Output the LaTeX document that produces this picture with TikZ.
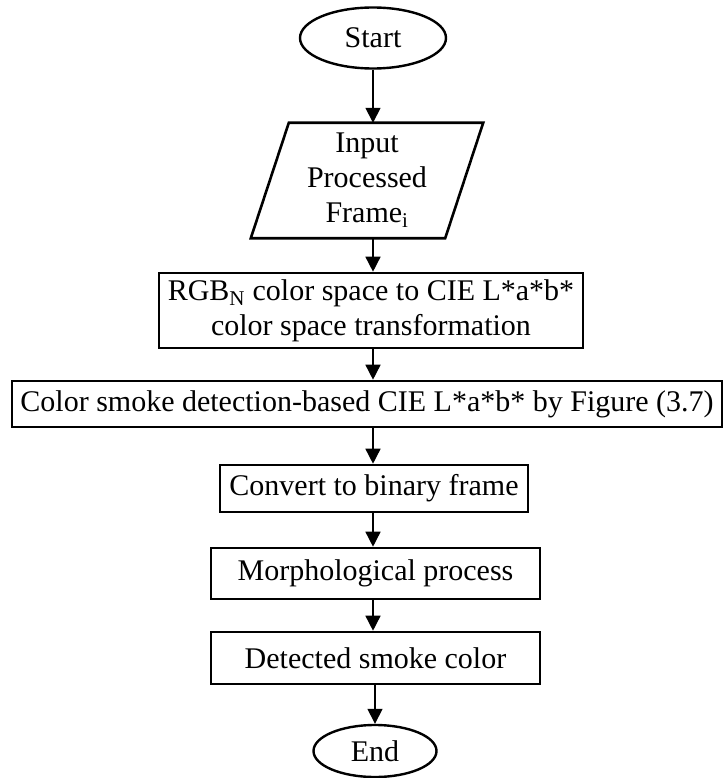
\documentclass[tikz,border=0pt]{standalone}
\usepackage{fontspec}
\setmainfont{Liberation Serif}
\usetikzlibrary{arrows.meta,shapes.geometric,calc}
\begin{document}
\begin{tikzpicture}[x=1pt,y=-1pt,
  every node/.style={font=\fontsize{30}{35}\selectfont, inner sep=0pt, align=center},
  term/.style={ellipse, draw, line width=2.4pt},
  proc/.style={rectangle, draw, line width=2.6pt},
  arr/.style={line width=1.5pt, -{Triangle[length=15pt,width=15pt]}},
]
\useasboundingbox (0,0) rectangle (724,778);

% terminals, input and process steps
\node[term, minimum width=146pt, minimum height=61pt] (start) at (373,38) {Start};
\node[minimum width=232pt, minimum height=115pt] (input) at (367,180.5) {Input\\Processed\\Frame\textsubscript{i}};
\draw[proc, line join=miter] ($(input.north west)+(38,0)$) -- (input.north east) -- ($(input.south east)+(-38,0)$) -- (input.south west) -- cycle;
\node[proc, minimum width=424pt, minimum height=75pt] (rgb) at (371,310.5) {RGB\textsubscript{N} color space to CIE L*a*b*\\color space transformation};
\node[proc, minimum width=710pt, minimum height=46pt] (smoke) at (367,404) {Color smoke detection-based CIE L*a*b* by Figure (3.7)};
\node[proc, minimum width=308pt, minimum height=47pt] (bin) at (374,488.5) {Convert to binary frame};
\node[proc, minimum width=329pt, minimum height=51pt] (morph) at (375.5,573.5) {Morphological process};
\node[proc, minimum width=329pt, minimum height=52pt] (det) at (375.5,658) {Detected smoke color};
\node[term, minimum width=123pt, minimum height=52pt] (end) at (375,751) {End};

% flow arrows
\draw[arr] (start.south) -- (start.south |- input.north);
\draw[arr] (input.south -| start) -- (rgb.north -| start);
\draw[arr] (rgb.south -| start) -- (smoke.north -| start);
\draw[arr] (smoke.south -| start) -- (bin.north -| start);
\draw[arr] (bin.south -| start) -- (morph.north -| start);
\draw[arr] (morph.south -| start) -- (det.north -| start);
\draw[arr] (det.south -| end) -- (end.north);
\end{tikzpicture}
\end{document}
